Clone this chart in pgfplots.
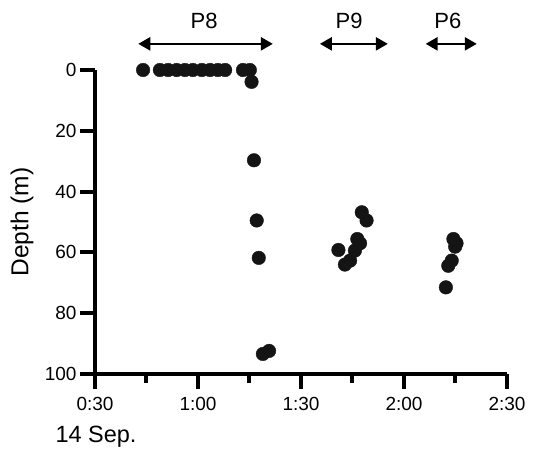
\documentclass[border=0pt]{standalone}
\usepackage{fontspec}
\setmainfont{Liberation Sans}
\usepackage{pgfplots}
\pgfplotsset{compat=1.18}
\usetikzlibrary{arrows.meta}
\definecolor{dotc}{HTML}{141414}
\begin{document}
\begin{tikzpicture}
\begin{axis}[
    width=412pt, height=304pt, scale only axis,
    xmin=30, xmax=150, ymin=0, ymax=100,
    y dir=reverse,
    axis x line*=bottom, axis y line*=left,
    axis line style={line width=4.3pt, -},
    tick align=outside,
    major tick length=15pt, minor tick length=9pt,
    every tick/.style={line width=4pt, black},
    xtick={30,60,90,120,150},
    xticklabels={0:30,1:00,1:30,2:00,2:30},
    minor x tick num=1,
    ytick={0,20,40,60,80,100},
    /pgf/number format/assume math mode=true,
    ticklabel style={font=\fontsize{19}{22}\selectfont},
    xticklabel style={yshift=-5pt},
    clip=false,
]
% P8 cast
\addplot[only marks, mark=*, mark size=6.8pt, dotc] coordinates {
    (44.0,0) (48.9,0) (51.3,0) (53.8,0) (56.2,0) (58.5,0) (61.1,0)
    (63.5,0) (65.8,0) (67.9,0) (73.1,0) (75.1,0) (75.6,3.9)
    (76.3,29.7) (77.1,49.5) (77.7,61.8) (78.9,93.4) (80.7,92.4)
};
% P9 cast
\addplot[only marks, mark=*, mark size=6.8pt, dotc] coordinates {
    (107.7,46.8) (109.1,49.5) (106.4,55.6) (107.2,57.0) (100.9,59.2)
    (105.7,59.4) (104.3,62.7) (102.8,64.0)
};
% P6 cast
\addplot[only marks, mark=*, mark size=6.8pt, dotc] coordinates {
    (134.4,55.6) (135.3,57.0) (134.9,58.1) (133.9,62.7) (132.9,64.4) (132.2,71.5)
};
\draw[line width=2.5pt, {Triangle[length=12pt,width=13pt]}-{Triangle[length=12pt,width=13pt]}]
    (axis cs:42.6,-8.6) -- (axis cs:81.8,-8.6);
\draw[line width=2.5pt, {Triangle[length=12pt,width=13pt]}-{Triangle[length=12pt,width=13pt]}]
    (axis cs:95.5,-8.6) -- (axis cs:115.3,-8.6);
\draw[line width=2.5pt, {Triangle[length=12pt,width=13pt]}-{Triangle[length=12pt,width=13pt]}]
    (axis cs:126.3,-8.6) -- (axis cs:141.2,-8.6);
\node[anchor=base, font=\fontsize{22}{26}\selectfont] at (axis cs:61.8,-13.5) {P8};
\node[anchor=base, font=\fontsize{22}{26}\selectfont] at (axis cs:104.0,-13.5) {P9};
\node[anchor=base, font=\fontsize{22}{26}\selectfont] at (axis cs:132.8,-13.5) {P6};
\end{axis}
\node[rotate=90, font=\fontsize{24.5}{28}\selectfont] at ([xshift=-73pt]current axis.west) {Depth (m)};
\node[anchor=west, font=\fontsize{23.5}{28}\selectfont] at ([xshift=-43pt,yshift=-63pt]current axis.south west) {14 Sep.};
\path[use as bounding box] ([shift={(-95pt,-76pt)}]current axis.south west) rectangle ++(539pt,450pt);
\end{tikzpicture}
\end{document}
